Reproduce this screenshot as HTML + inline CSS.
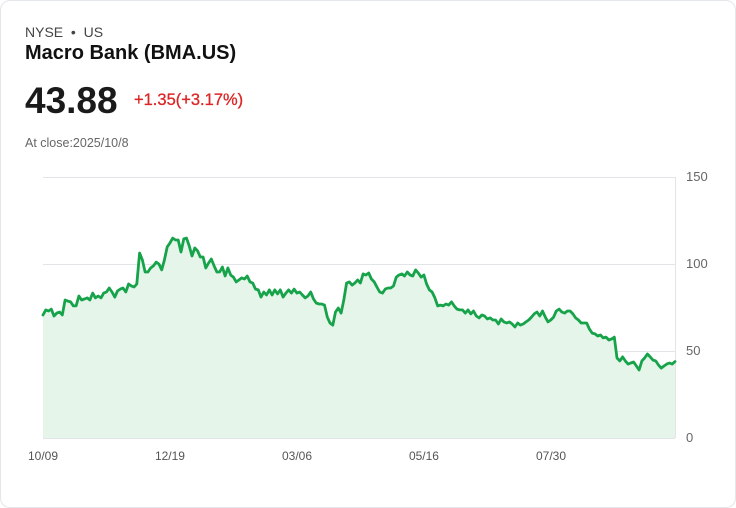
<!DOCTYPE html>
<html><head><meta charset="utf-8"><style>
body{margin:0;background:#fff;font-family:"Liberation Sans",sans-serif;}
.card{position:absolute;left:0;top:0;width:734px;height:506px;border:1px solid #e3e6ea;border-radius:10px;background:#fff;}
.t{position:absolute;white-space:nowrap;}
</style></head><body>
<div class="card">
<div class="t" style="left:24px;top:23px;font-size:14px;color:#444;">NYSE &nbsp;•&nbsp; US</div>
<div class="t" style="left:24px;top:41px;font-size:20px;font-weight:bold;color:#111;">Macro Bank (BMA.US)</div>
<div class="t" style="left:24px;top:79px;font-size:37px;font-weight:bold;color:#1a1a1a;">43.88</div>
<div class="t" style="left:133px;top:90px;font-size:16.5px;color:#dc2626;-webkit-text-stroke:0.3px #dc2626;">+1.35(+3.17%)</div>
<div class="t" style="left:24px;top:135px;font-size:12.5px;color:#666;">At close:2025/10/8</div>
<svg id="chart" width="736" height="508" style="position:absolute;left:-1px;top:-1px;"></svg>
</div>
<script>
const prices=[70.7,73.6,73,74.1,70.1,71.8,72.4,70.7,79.3,78.7,78.2,75.9,75.9,81.6,79.3,79.9,80.5,79.3,83.3,80.5,81.6,80.5,83.3,83.9,86.2,83.9,81,84.5,85.6,86.2,83.9,88.5,87.4,86.8,88.5,106.3,102.3,95.4,95.4,97.7,98.9,101.1,100,96.6,102.3,109.8,112.1,114.9,113.8,113.8,106.9,114.4,114.9,110.3,104.6,109.2,107.5,104,104,97.7,100.6,102.9,98.9,95.4,95.4,98.3,93.1,97.7,93.7,92.5,89.7,90.8,92,91.4,93.1,89.7,89.1,85.6,85.1,81,83.9,82.2,85.1,82.2,85.1,82.8,85.1,81,83.3,85.1,83.3,85.6,83.3,83.9,82.2,80.5,81.6,83.9,79.9,77.6,77,77,76.4,69.5,66.1,64.9,72.4,74.7,71.8,79.3,89.1,89.7,87.9,89.1,90.8,89.1,94.3,93.7,94.8,91.4,89.7,86.8,83.9,83.3,85.6,86.2,86.2,87.4,92.5,93.7,94.3,93.1,95.4,93.7,93.1,96.6,94.8,92.5,93.7,88.5,85.1,83.9,80.5,75.9,76.4,75.9,77,76.4,78.2,75.9,74.1,73.6,73.6,71.8,73.6,71.3,73,70.1,69,70.7,70.1,68.4,69,67.8,67.8,65.5,68.4,66.7,66.1,66.7,65.5,63.8,66.1,64.9,65.5,66.7,67.8,69.5,71.3,72.4,70.1,73,69.5,66.7,67.8,69.5,73,74.1,72.4,71.8,73,73,71.3,69,67.8,66.1,66.1,66.1,62.6,60.3,59.8,58.6,59.2,57.5,58,56.3,56.9,58,46,44.3,46.6,44.3,42.5,43.1,43.7,41.4,39.1,44.3,46,48.3,46.6,44.8,44.3,42,40.2,41.4,42.5,43.1,42.5,43.9];
const yTicks=[0,50,100,150];
const xLabels=["10/09","12/19","03/06","05/16","07/30"];
const xLabelFrac=[0,0.2009,0.4019,0.6028,0.8038];
const NS="http://www.w3.org/2000/svg";
const svg=document.getElementById('chart');
const X0=43,X1=675,Y0=438,Y1=177,VMAX=150;
const xs=i=>X0+(X1-X0)*i/(prices.length-1);
const ys=v=>Y0-(Y0-Y1)*v/VMAX;
function mk(tag,a){const e=document.createElementNS(NS,tag);for(const k in a)e.setAttribute(k,a[k]);svg.appendChild(e);return e;}
yTicks.forEach(t=>{
 const l=mk('line',{x1:X0,x2:X1,y1:ys(t)+0.5,y2:ys(t)+0.5,stroke:'#e2e4e7','stroke-width':1});
 
 
 const tx=mk('text',{x:X1+11,y:ys(t)+4,'font-size':13,fill:'#666','font-family':'Liberation Sans, sans-serif'});
 tx.textContent=t;
 
 
});
const ax=mk('line',{x1:X1+0.5,x2:X1+0.5,y1:Y1,y2:Y0,stroke:'#e2e4e7','stroke-width':1});


xLabels.forEach((s,i)=>{
 const tx=mk('text',{x:X0+(X1-X0)*xLabelFrac[i],y:460,'font-size':12,fill:'#555','text-anchor':'middle','font-family':'Liberation Sans, sans-serif'});
 tx.textContent=s;
 
 
});
let d=prices.map((v,i)=>(i?'L':'M')+xs(i).toFixed(1)+','+ys(v).toFixed(1)).join('');
const area=mk('path',{d:d+'L'+xs(prices.length-1)+','+Y0+'L'+X0+','+Y0+'Z',fill:'#e5f5ea'});


const line=mk('path',{d:d,fill:'none',stroke:'#16a34a','stroke-width':2.8,'stroke-linejoin':'round','stroke-linecap':'round'});


</script>
</body></html>
